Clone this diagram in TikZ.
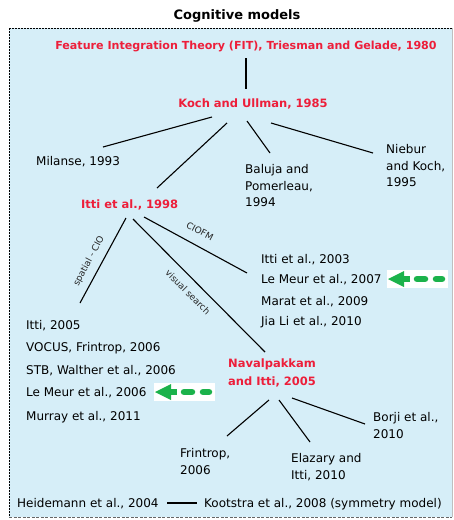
\documentclass[tikz,border=0pt]{standalone}
\usepackage{fontspec}
\setmainfont{DejaVu Sans}
\usetikzlibrary{calc}
\definecolor{bgblue}{RGB}{214,238,248}
\definecolor{tred}{RGB}{237,30,58}
\definecolor{agreen}{RGB}{27,178,75}
\begin{document}
\begin{tikzpicture}[x=1pt,y=-1pt,
  txt/.style={font=\fontsize{12}{16.5}\selectfont, inner sep=0pt, align=left, text=black},
  keytxt/.style={font=\bfseries\fontsize{11.5}{18}\selectfont, inner sep=0pt, align=left, text=tred},
  lbl/.style={font=\fontsize{9}{10}\selectfont, inner sep=0pt, text=black!85},
  lnk/.style={line width=1.1pt, black},
  garrow/.pic={
    \fill[white] (-30.5,-9) rectangle (30.5,9);
    \fill[agreen] (-29.5,0) -- (-13.5,-8) -- (-13.5,8) -- cycle;
    \fill[agreen] (-16,-3.4) rectangle (-8,3.4);
    \draw[agreen, line width=6.5pt, line cap=round] (-0.5,0) -- (7.5,0);
    \draw[agreen, line width=6.5pt, line cap=round] (18.5,0) -- (24.5,0);
  }]
\useasboundingbox (0,0) rectangle (454,520);
% frame
\fill[bgblue] (9,28) rectangle (452,517);
\draw[black, line width=0.9pt, dash pattern=on 2pt off 1pt] (452,28) -- (9,28);
\draw[black, line width=1.6pt, dash pattern=on 2pt off 1pt] (9.5,28) -- (9.5,517);
\draw[black!60, line width=0.7pt, dash pattern=on 3pt off 1.5pt] (9,517) -- (452,517);
\draw[black!25, line width=0.6pt] (452,28) -- (452,517);
% title
\node[font=\bfseries\fontsize{13}{15}\selectfont, inner sep=0pt] (title) at (237,16) {Cognitive models};
% nodes
\node[keytxt, font=\bfseries\fontsize{11.1}{18}\selectfont, anchor=base] (fit) at (246,49) {Feature Integration Theory (FIT), Triesman and Gelade, 1980};
\node[keytxt, anchor=base] (koch) at (253,107) {Koch and Ullman, 1985};
\node[txt, anchor=base west] (milanse) at (36,165) {Milanse, 1993};
\node[txt, anchor=north west] (baluja) at (245,164.5) {Baluja and\\Pomerleau,\\1994};
\node[txt, anchor=north west] (niebur) at (386,144.5) {Niebur\\and Koch,\\1995};
\node[keytxt, anchor=base west] (itti98) at (81,208) {Itti et al., 1998};
\node[txt, anchor=base west] (itti03) at (261,263) {Itti et al., 2003};
\node[txt, anchor=base west] (lemeur07) at (261,283.5) {Le Meur et al., 2007};
\node[txt, anchor=base west] (marat) at (261,305) {Marat et al., 2009};
\node[txt, anchor=base west] (jiali) at (261,325) {Jia Li et al., 2010};
\node[txt, anchor=base west] (itti05) at (26,329) {Itti, 2005};
\node[txt, anchor=base west] (vocus) at (26,351) {VOCUS, Frintrop, 2006};
\node[txt, anchor=base west] (stb) at (26,374) {STB, Walther et al., 2006};
\node[txt, anchor=base west] (lemeur06) at (26,396) {Le Meur et al., 2006};
\node[txt, anchor=base west] (murray) at (26,420) {Murray et al., 2011};
\node[keytxt, anchor=north west] (naval) at (228,358.5) {Navalpakkam\\and Itti, 2005};
\node[txt, anchor=north west] (frintrop) at (180,448.5) {Frintrop,\\2006};
\node[txt, anchor=north west] (elazary) at (291,453.5) {Elazary and\\Itti, 2010};
\node[txt, anchor=north west] (borji) at (373,412.5) {Borji et al.,\\2010};
\node[txt, anchor=base west] (heidemann) at (17,507) {Heidemann et al., 2004};
\node[txt, anchor=base west] (kootstra) at (204,507) {Kootstra et al., 2008 (symmetry model)};
% connectors
\draw[lnk] ([shift={(0,9)}]fit.base) -- ([shift={(-7,-18)}]koch.base);
\draw[lnk] ([shift={(-41,10)}]koch.base) -- ([shift={(67,-18)}]milanse.base west);
\draw[lnk] ([shift={(-26,16)}]koch.base) -- ([shift={(76,-20)}]itti98.base west);
\draw[lnk] ([shift={(-6,14)}]koch.base) -- ([shift={(25,-11.5)}]baluja.north west);
\draw[lnk] ([shift={(18,16)}]koch.base) -- ([shift={(-13,8.5)}]niebur.north west);
\draw[lnk] ([shift={(45,10)}]itti98.base west) -- ([shift={(54,-26)}]itti05.base west);
\draw[lnk] ([shift={(52,11)}]itti98.base west) -- ([shift={(37,-6.5)}]naval.north west);
\draw[lnk] ([shift={(63,9)}]itti98.base west) -- ([shift={(-14,10)}]itti03.base west);
\draw[lnk] ([shift={(41,41.5)}]naval.north west) -- ([shift={(47,-12.5)}]frintrop.north west);
\draw[lnk] ([shift={(51,41.5)}]naval.north west) -- ([shift={(19,-11.5)}]elazary.north west);
\draw[lnk] ([shift={(64,39.5)}]naval.north west) -- ([shift={(-8,11.5)}]borji.north west);
\draw[line width=2.6pt, black] ([shift={(-37,-4)}]kootstra.base west) -- ([shift={(-7,-4)}]kootstra.base west);
% connector labels
\node[lbl, rotate=-28] (ciofm) at (200,231) {CIOFM};
\node[lbl, rotate=62] (spatial) at (89,261) {spatial - CIO};
\node[lbl, rotate=-45] (visual) at (188,292) {visual search};
% green arrows
\pic at (417.5,279) {garrow};
\pic at (184.5,392) {garrow};
\end{tikzpicture}
\end{document}
